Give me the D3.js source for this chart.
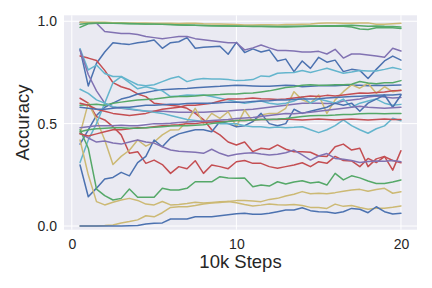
<!DOCTYPE html>
<html>
<head>
<meta charset="utf-8">
<script src="https://cdn.jsdelivr.net/npm/d3@7"></script>
<style>
  body { margin: 0; background: #fff; }
  svg { display: block; font-family: "Liberation Sans", Arial, sans-serif; }
</style>
</head>
<body>
<div id="chart"></div>
<script>
// x positions: 0.5 .. 20 in 0.5 steps (40 evaluations)
const steps = [0.5, 1, 1.5, 2, 2.5, 3, 3.5, 4, 4.5, 5, 5.5, 6, 6.5, 7, 7.5, 8, 8.5, 9, 9.5, 10,
  10.5, 11, 11.5, 12, 12.5, 13, 13.5, 14, 14.5, 15, 15.5, 16, 16.5, 17, 17.5, 18, 18.5, 19, 19.5, 20];

const xTicks = [0, 10, 20];
const yTicks = [0.0, 0.5, 1.0];

/* accuracy curves */
const blueHigh = [.863, .684, .795, .85, .895, .89, .887, .895, .9, .908, .868, .895, .9, .92, .868, .873, .876, .878, .839, .897,
  .847, .865, .85, .86, .806, .815, .754, .806, .77, .824, .80, .81, .754, .765, .76, .72, .765, .806, .83, .81];
const greenTop1 = [.97, .988, .99, .99, .99, .989, .988, .988, .987, .986, .985, .984, .983, .982, .98, .979, .978, .977, .977, .976,
  .975, .974, .974, .973, .973, .972, .973, .974, .975, .975, .976, .976, .975, .972, .962, .96, .968, .97, .968, .965];
const redHigh = [.83, .82, .808, .76, .70, .68, .668, .645, .632, .60, .595, .59, .585, .575, .55, .52, .47, .445, .41, .396,
  .41, .363, .38, .375, .396, .375, .363, .363, .36, .342, .34, .387, .40, .371, .38, .29, .328, .34, .273, .368];
const purpleHigh = [.995, .993, .99, .95, .945, .94, .94, .935, .925, .92, .915, .92, .925, .925, .915, .91, .905, .9, .895, .895,
  .86, .87, .884, .87, .857, .857, .855, .85, .85, .853, .84, .863, .82, .84, .84, .835, .83, .824, .868, .855];
const yellowTop = [.995, .995, .995, .995, .993, .993, .992, .992, .991, .99, .99, .99, .989, .99, .99, .988, .987, .986, .985, .984,
  .982, .982, .983, .983, .982, .984, .984, .985, .986, .99, .992, .992, .99, .99, .991, .992, .985, .985, .988, .99];
const cyanHigh = [.865, .762, .786, .745, .73, .73, .71, .69, .685, .69, .705, .72, .73, .705, .715, .72, .718, .718, .715, .71,
  .712, .715, .733, .73, .746, .748, .75, .759, .75, .76, .77, .758, .746, .752, .759, .757, .757, .765, .774, .765];

const blueMid = [.40, .47, .54, .58, .60, .62, .63, .645, .652, .66, .665, .668, .67, .672, .675, .678, .68, .682, .685, .688,
  .686, .684, .682, .682, .685, .688, .686, .68, .683, .685, .686, .685, .688, .688, .687, .685, .687, .686, .688, .689];
const greenTop2 = [.985, .99, .992, .991, .99, .99, .989, .988, .987, .986, .985, .984, .982, .981, .98, .979, .978, .978, .977, .977,
  .976, .975, .975, .975, .974, .975, .976, .976, .977, .977, .978, .978, .979, .98, .978, .976, .977, .975, .974, .972];
const redFall = [.624, .60, .534, .518, .485, .445, .355, .363, .306, .322, .30, .257, .29, .28, .319, .257, .298, .29, .28, .314,
  .32, .306, .306, .29, .282, .29, .298, .309, .29, .314, .306, .34, .32, .318, .29, .33, .31, .339, .32, .309];
const purpleMid = [.86, .74, .66, .60, .58, .575, .57, .565, .56, .56, .56, .558, .556, .555, .555, .556, .558, .56, .562, .565,
  .568, .57, .575, .58, .585, .59, .595, .60, .60, .60, .598, .60, .61, .615, .62, .63, .635, .63, .625, .627];
const yellowZig = [.45, .60, .52, .42, .30, .34, .37, .42, .39, .41, .445, .469, .47, .51, .575, .50, .55, .526, .558, .485,
  .567, .51, .542, .55, .55, .575, .656, .616, .60, .64, .55, .616, .656, .689, .673, .697, .648, .68, .656, .664];
const cyanRise = [.31, .42, .50, .60, .70, .73, .70, .67, .68, .67, .66, .632, .635, .64, .638, .64, .632, .624, .616, .607,
  .60, .605, .61, .60, .595, .60, .61, .63, .60, .62, .61, .60, .62, .58, .60, .61, .62, .60, .59, .594];

const blueLow = [.298, .143, .185, .23, .237, .262, .245, .31, .34, .42, .387, .43, .45, .46, .47, .47, .46, .51, .50, .485,
  .49, .51, .55, .50, .49, .50, .57, .55, .56, .57, .58, .60, .59, .60, .56, .60, .62, .64, .58, .64];
const greenMid = [.59, .592, .595, .59, .60, .605, .61, .615, .618, .62, .625, .63, .632, .633, .635, .638, .64, .642, .645, .645,
  .648, .65, .655, .66, .668, .676, .68, .687, .69, .688, .687, .69, .69, .692, .706, .698, .695, .70, .70, .71];
const redMid = [.60, .59, .57, .56, .55, .545, .54, .545, .55, .56, .57, .575, .58, .59, .59, .595, .60, .61, .62, .62,
  .622, .625, .622, .62, .618, .62, .625, .63, .635, .632, .638, .635, .64, .645, .65, .648, .652, .655, .66, .662];
const purpleLow = [.453, .43, .41, .415, .405, .40, .41, .42, .41, .405, .387, .371, .365, .363, .36, .355, .375, .355, .342, .35,
  .355, .358, .352, .347, .35, .358, .371, .347, .322, .342, .354, .33, .326, .32, .31, .315, .318, .316, .32, .314];
const yellowLow = [.42, .25, .119, .103, .116, .127, .135, .125, .107, .103, .12, .103, .105, .11, .116, .112, .115, .118, .12, .114,
  .105, .098, .102, .107, .104, .103, .105, .10, .091, .09, .086, .107, .096, .10, .09, .082, .087, .087, .092, .098];
const cyanLow = [.668, .648, .616, .60, .583, .578, .573, .567, .562, .555, .55, .54, .53, .52, .515, .51, .505, .50, .50, .50,
  .49, .485, .485, .48, .483, .48, .482, .485, .47, .456, .47, .49, .518, .49, .47, .453, .475, .489, .526, .514];

const blueSteady = [.58, .575, .57, .57, .575, .58, .58, .585, .59, .59, .592, .595, .595, .598, .60, .60, .60, .602, .605, .605,
  .605, .608, .61, .612, .615, .615, .618, .62, .62, .622, .625, .628, .63, .632, .634, .636, .638, .64, .64, .643];
const greenLow = [.47, .38, .18, .148, .127, .135, .181, .14, .14, .14, .184, .176, .176, .184, .216, .216, .216, .241, .235, .233,
  .235, .192, .20, .195, .216, .205, .215, .221, .21, .215, .20, .257, .225, .245, .235, .22, .208, .208, .215, .225];
const redLow = [.45, .44, .45, .46, .47, .47, .475, .48, .48, .485, .49, .492, .495, .50, .50, .505, .508, .51, .512, .515,
  .515, .518, .52, .52, .52, .522, .52, .518, .52, .522, .52, .518, .52, .522, .52, .518, .52, .522, .52, .52];
const purpleSteady = [.48, .485, .49, .49, .49, .492, .49, .49, .495, .50, .50, .502, .505, .508, .51, .512, .515, .518, .52, .525,
  .528, .53, .535, .54, .545, .55, .548, .552, .555, .56, .565, .57, .575, .58, .585, .58, .578, .575, .578, .58];
const yellowRise = [0, 0, 0, .002, .005, .015, .022, .03, .05, .045, .065, .091, .094, .094, .10, .108, .112, .115, .12, .124,
  .124, .122, .119, .13, .135, .147, .155, .168, .158, .16, .158, .163, .17, .176, .179, .17, .178, .184, .16, .167];

const blueBottom = [0, 0, 0, 0, 0, 0, .001, .002, .01, .013, .015, .034, .034, .034, .045, .045, .045, .05, .055, .06,
  .062, .057, .058, .062, .07, .078, .078, .089, .075, .07, .068, .062, .07, .086, .082, .065, .094, .07, .059, .062];
const greenSteady = [.46, .47, .475, .478, .48, .48, .478, .478, .48, .482, .485, .488, .49, .49, .492, .495, .50, .505, .51, .515,
  .515, .518, .52, .52, .522, .525, .53, .535, .538, .54, .54, .542, .545, .545, .548, .55, .55, .548, .55, .55];

// seaborn "deep" cycle
const palette = ['#4C72B0', '#55A868', '#C44E52', '#8172B2', '#CCB974', '#64B5CD'];

// drawing order follows the colour cycle
const runs = [
  blueHigh, greenTop1, redHigh, purpleHigh, yellowTop, cyanHigh,
  blueMid, greenTop2, redFall, purpleMid, yellowZig, cyanRise,
  blueLow, greenMid, redMid, purpleLow, yellowLow, cyanLow,
  blueSteady, greenLow, redLow, purpleSteady, yellowRise, null,
  blueBottom, greenSteady
];

const width = 432, height = 288;
const margin = { top: 15.3, right: 15, bottom: 58.3, left: 64 };
const w = width - margin.left - margin.right;
const h = height - margin.top - margin.bottom;

const svg = d3.select('#chart').append('svg')
  .attr('width', width)
  .attr('height', height);

const plot = svg.append('g')
  .attr('transform', `translate(${margin.left},${margin.top})`);

const x = d3.scaleLinear().domain([-0.475, 20.975]).range([0, w]);
const y = d3.scaleLinear().domain([-0.018, 1.029]).range([h, 0]);

plot.append('rect')
  .attr('width', w)
  .attr('height', h)
  .attr('fill', '#EAEAF2');

// grid
plot.selectAll('.gx').data(xTicks).enter().append('line')
  .attr('x1', d => x(d)).attr('x2', d => x(d))
  .attr('y1', 0).attr('y2', h)
  .attr('stroke', '#fff').attr('stroke-width', 1);
plot.selectAll('.gy').data(yTicks).enter().append('line')
  .attr('x1', 0).attr('x2', w)
  .attr('y1', d => y(d)).attr('y2', d => y(d))
  .attr('stroke', '#fff').attr('stroke-width', 1);

// axes (no spines, no tick marks, seaborn darkgrid look)
const xAxis = d3.axisBottom(x).tickValues(xTicks).tickSize(0).tickPadding(9).tickFormat(d3.format('d'));
const yAxis = d3.axisLeft(y).tickValues(yTicks).tickSize(0).tickPadding(7).tickFormat(d3.format('.1f'));

const gX = plot.append('g').attr('transform', `translate(0,${h})`).call(xAxis);
const gY = plot.append('g').call(yAxis);
[gX, gY].forEach(g => {
  g.select('.domain').remove();
  g.selectAll('text').attr('fill', '#262626').style('font-size', '14px')
    .style('font-family', '"Liberation Sans", Arial, sans-serif');
});

const line = d3.line()
  .x((d, i) => x(steps[i]))
  .y(d => y(d));

runs.forEach((vals, k) => {
  if (!vals) return;
  plot.append('path')
    .datum(vals)
    .attr('d', line)
    .attr('fill', 'none')
    .attr('stroke', palette[k % palette.length])
    .attr('stroke-width', 1.5)
    .attr('stroke-linejoin', 'round')
    .attr('stroke-linecap', 'round');
});

svg.append('text')
  .attr('x', margin.left + w / 2)
  .attr('y', 268)
  .attr('text-anchor', 'middle')
  .attr('fill', '#262626')
  .style('font-size', '18.5px')
  .text('10k Steps');

svg.append('text')
  .attr('transform', `translate(29,${margin.top + h / 2}) rotate(-90)`)
  .attr('text-anchor', 'middle')
  .attr('fill', '#262626')
  .style('font-size', '18.5px')
  .text('Accuracy');
</script>
</body>
</html>
